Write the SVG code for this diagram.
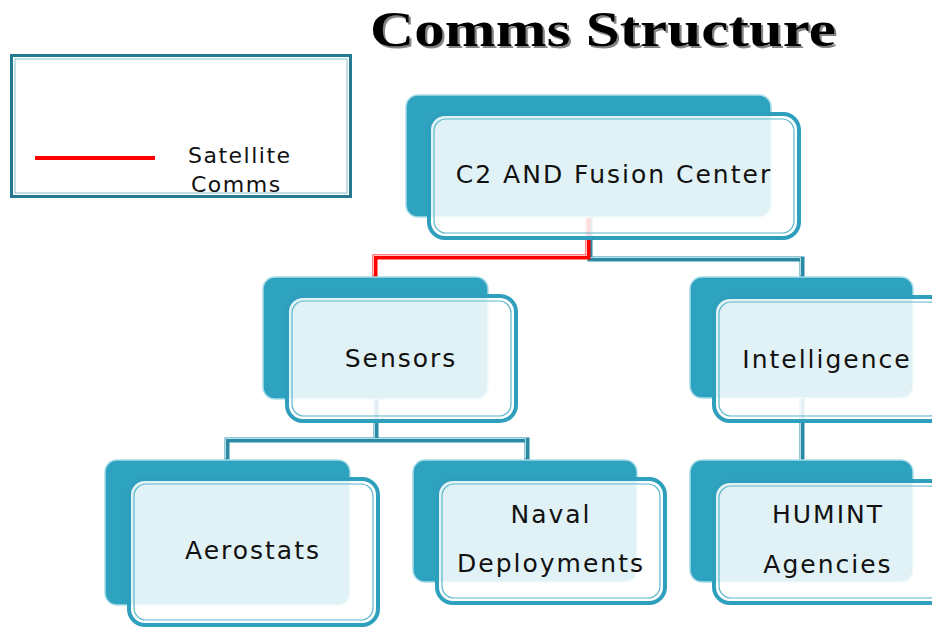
<svg xmlns="http://www.w3.org/2000/svg" width="932" height="628" viewBox="0 0 932 628">
<defs>
<filter id="shadow" x="-5%" y="-20%" width="110%" height="140%">
<feDropShadow dx="2" dy="2" stdDeviation="0.6" flood-color="#777" flood-opacity="0.9"/>
</filter>
</defs>
<style>
.back{fill:#2ea3c0;stroke:#a9dce8;stroke-width:1.5}
.front{fill:#ffffff;fill-opacity:0.86;stroke:#2e9fbc;stroke-width:4}
.inner{fill:none;stroke:#5bb7cc;stroke-width:1.2}
.lbl{font-family:"DejaVu Sans",sans-serif;font-size:25px;letter-spacing:2px;fill:#111;text-anchor:middle}
.tealc{fill:none;stroke:#2a8aa3;stroke-width:5}
.tealh{fill:none;stroke:#b4e0ea;stroke-width:1}
.redc{fill:none;stroke:#ff0000;stroke-width:5}
.redh{fill:none;stroke:#ffc8c8;stroke-width:1}
</style>
<rect width="932" height="628" fill="#ffffff"/>
<g id="title">
<text x="370" y="46" font-family="Liberation Serif,serif" font-weight="bold" font-size="51" fill="#000" textLength="466" lengthAdjust="spacingAndGlyphs" filter="url(#shadow)">Comms Structure</text>
</g>
<g id="legend">
<rect x="11.5" y="55.5" width="339" height="141" fill="#fff" stroke="#267a8f" stroke-width="3"/>
<rect x="15" y="59" width="332" height="134" fill="none" stroke="#9ccbd8" stroke-width="1.2"/>
<line x1="35" y1="158" x2="155" y2="158" stroke="#ff0000" stroke-width="4"/>
<text x="188" y="163" font-family="DejaVu Sans,sans-serif" font-size="22" letter-spacing="1.5" fill="#111">Satellite</text>
<text x="191" y="192" font-family="DejaVu Sans,sans-serif" font-size="22" letter-spacing="1.5" fill="#111">Comms</text>
</g>
<g id="connectors">
<path class="tealc" d="M590,217 V259 H802 V277"/>
<path class="tealh" transform="translate(-1.5,-1.5)" d="M590,217 V259 H802 V277"/>
<path class="redc" d="M588,217 V257 H375 V277"/>
<path class="redh" transform="translate(-1.5,-1.5)" d="M588,217 V257 H375 V277"/>
<path class="tealc" d="M376,399 V440 H227 V460 M376,440 H527 V460"/>
<path class="tealh" transform="translate(-1.5,-1.5)" d="M376,399 V440 H227 V460 M376,440 H527 V460"/>
<path class="tealc" d="M802,398 V460"/>
<path class="tealh" transform="translate(-1.5,0)" d="M802,398 V460"/>
</g>
<g id="c2">
<rect class="back" x="406" y="95" width="365" height="122" rx="12"/>
<rect class="front" x="429" y="114" width="370" height="124" rx="16"/>
<rect class="inner" x="434" y="119" width="360" height="114" rx="12"/>
<text class="lbl" x="614" y="183">C2 AND Fusion Center</text>
</g>
<g id="sensors">
<rect class="back" x="263" y="277" width="225" height="122" rx="12"/>
<rect class="front" x="287" y="296" width="229" height="125" rx="16"/>
<rect class="inner" x="292" y="301" width="219" height="115" rx="12"/>
<text class="lbl" x="401" y="367">Sensors</text>
</g>
<g id="intelligence">
<rect class="back" x="690" y="277" width="223" height="121" rx="12"/>
<rect class="front" x="714" y="297" width="232" height="124" rx="16"/>
<rect class="inner" x="719" y="302" width="222" height="114" rx="12"/>
<text class="lbl" x="827" y="368">Intelligence</text>
</g>
<g id="aerostats">
<rect class="back" x="105" y="460" width="245" height="145" rx="12"/>
<rect class="front" x="129" y="479" width="249" height="146" rx="16"/>
<rect class="inner" x="134" y="484" width="239" height="136" rx="12"/>
<text class="lbl" x="253" y="559">Aerostats</text>
</g>
<g id="naval">
<rect class="back" x="413" y="460" width="224" height="122" rx="12"/>
<rect class="front" x="437" y="479" width="228" height="124" rx="16"/>
<rect class="inner" x="442" y="484" width="218" height="114" rx="12"/>
<text class="lbl" x="551" y="523">Naval</text>
<text class="lbl" x="551" y="572">Deployments</text>
</g>
<g id="humint">
<rect class="back" x="690" y="460" width="223" height="122" rx="12"/>
<rect class="front" x="714" y="481" width="232" height="122" rx="16"/>
<rect class="inner" x="719" y="486" width="222" height="112" rx="12"/>
<text class="lbl" x="828" y="523">HUMINT</text>
<text class="lbl" x="828" y="573">Agencies</text>
</g>
</svg>
